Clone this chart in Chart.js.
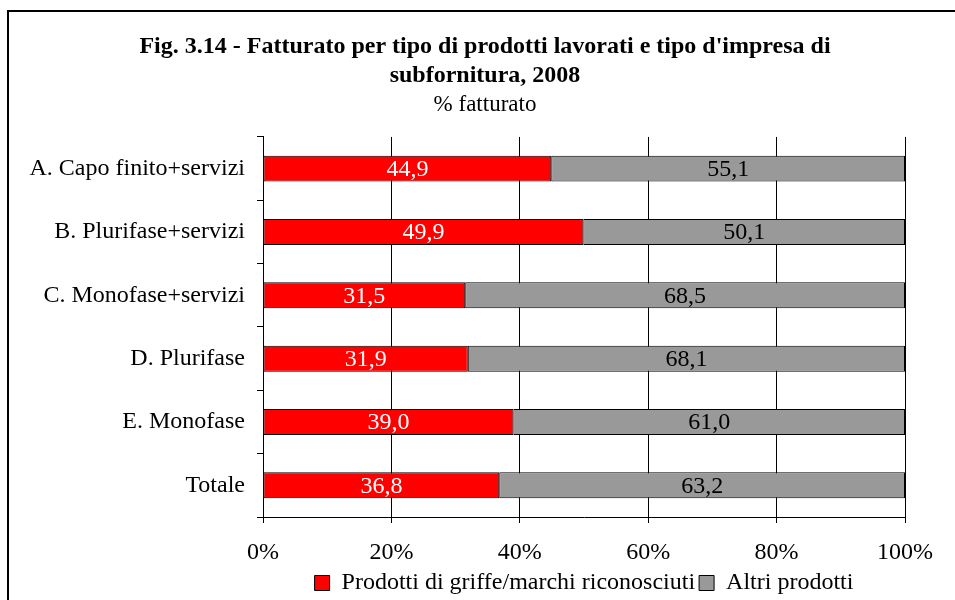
<!DOCTYPE html>
<html lang="it">
<head>
  <meta charset="UTF-8" />
  <title>Fig. 3.14</title>
  <script src="https://cdn.jsdelivr.net/npm/chart.js"></script>
  <style>
    body { margin: 0; background: #fff; }
    #wrap { width: 955px; height: 600px; }
  </style>
</head>
<body>
  <div id="wrap"><canvas id="chart" width="955" height="600"></canvas></div>
  <script>
    const categories = [
      'A. Capo finito+servizi',
      'B. Plurifase+servizi',
      'C. Monofase+servizi',
      'D. Plurifase',
      'E. Monofase',
      'Totale'
    ];
    const griffe = [44.9, 49.9, 31.5, 31.9, 39.0, 36.8];
    const altri = [55.1, 50.1, 68.5, 68.1, 61.0, 63.2];
    const xTicks = [0, 20, 40, 60, 80, 100];

    const serif = '"Liberation Serif", "Times New Roman", serif';
    Chart.defaults.font.family = serif;
    Chart.defaults.color = '#000';

    // outer frame (left and top edges visible)
    const framePlugin = {
      id: 'frame',
      beforeDraw(chart) {
        const ctx = chart.ctx;
        ctx.save();
        ctx.strokeStyle = '#000';
        ctx.lineWidth = 2;
        ctx.beginPath();
        ctx.moveTo(8, 600);
        ctx.lineTo(8, 11);
        ctx.lineTo(955, 11);
        ctx.stroke();
        ctx.restore();
      }
    };

    // value labels inside the bars
    const valueLabels = {
      id: 'valueLabels',
      afterDatasetsDraw(chart) {
        const ctx = chart.ctx;
        ctx.save();
        ctx.font = '24px ' + serif;
        ctx.textAlign = 'center';
        ctx.textBaseline = 'middle';
        chart.data.datasets.forEach((ds, i) => {
          const meta = chart.getDatasetMeta(i);
          ctx.fillStyle = i === 0 ? '#fff' : '#000';
          meta.data.forEach((bar, j) => {
            const cx = (bar.x + bar.base) / 2;
            ctx.fillText(ds.data[j].toFixed(1).replace('.', ','), cx, bar.y + 1);
          });
        });
        ctx.restore();
      }
    };

    new Chart(document.getElementById('chart'), {
      type: 'bar',
      data: {
        labels: categories,
        datasets: [
          {
            label: 'Prodotti di griffe/marchi riconosciuti',
            data: griffe,
            backgroundColor: '#ff0000',
            borderColor: '#000',
            borderWidth: 1,
            borderSkipped: false
          },
          {
            label: 'Altri prodotti',
            data: altri,
            backgroundColor: '#999999',
            borderColor: '#000',
            borderWidth: 1,
            borderSkipped: false
          }
        ]
      },
      options: {
        indexAxis: 'y',
        responsive: false,
        animation: false,
        layout: { padding: { left: 15, right: 0, top: 0, bottom: -5 } },
        datasets: { bar: { barPercentage: 0.41, categoryPercentage: 1 } },
        scales: {
          x: {
            stacked: true,
            min: 0,
            max: 100,
            afterBuildTicks(scale) {
              scale.ticks = xTicks.map(v => ({ value: v }));
            },
            afterFit(scale) { scale.height = 50; },
            ticks: {
              callback: v => v + '%',
              font: { size: 24 },
              color: '#000',
              padding: 15
            },
            grid: { color: '#000', tickLength: 6, tickColor: '#000' },
            border: { color: '#000' }
          },
          y: {
            stacked: true,
            afterFit(scale) { scale.width = 248; },
            ticks: { font: { size: 24 }, color: '#000', padding: 12 },
            grid: { drawOnChartArea: false, tickLength: 6, tickColor: '#000' },
            border: { color: '#000' }
          },
          yRight: {
            position: 'right',
            type: 'linear',
            display: true,
            afterFit(scale) { scale.width = 50; },
            ticks: { display: false },
            grid: { display: false },
            border: { display: false }
          }
        },
        plugins: {
          title: {
            display: true,
            text: ["Fig. 3.14 - Fatturato per tipo di prodotti lavorati e tipo d'impresa di", 'subfornitura, 2008'],
            font: { size: 24, weight: 'bold', lineHeight: 1.2 },
            color: '#000',
            padding: { top: 32.6, bottom: 0 }
          },
          subtitle: {
            display: true,
            text: '% fatturato',
            font: { size: 23, lineHeight: 1.25 },
            color: '#000',
            padding: { top: 0, bottom: 18 }
          },
          legend: {
            position: 'bottom',
            fullSize: false,
            labels: {
              font: { size: 24 },
              color: '#000',
              boxWidth: 15,
              boxHeight: 15,
              padding: 4
            }
          },
          tooltip: { enabled: false }
        }
      },
      plugins: [framePlugin, valueLabels]
    });
  </script>
</body>
</html>
